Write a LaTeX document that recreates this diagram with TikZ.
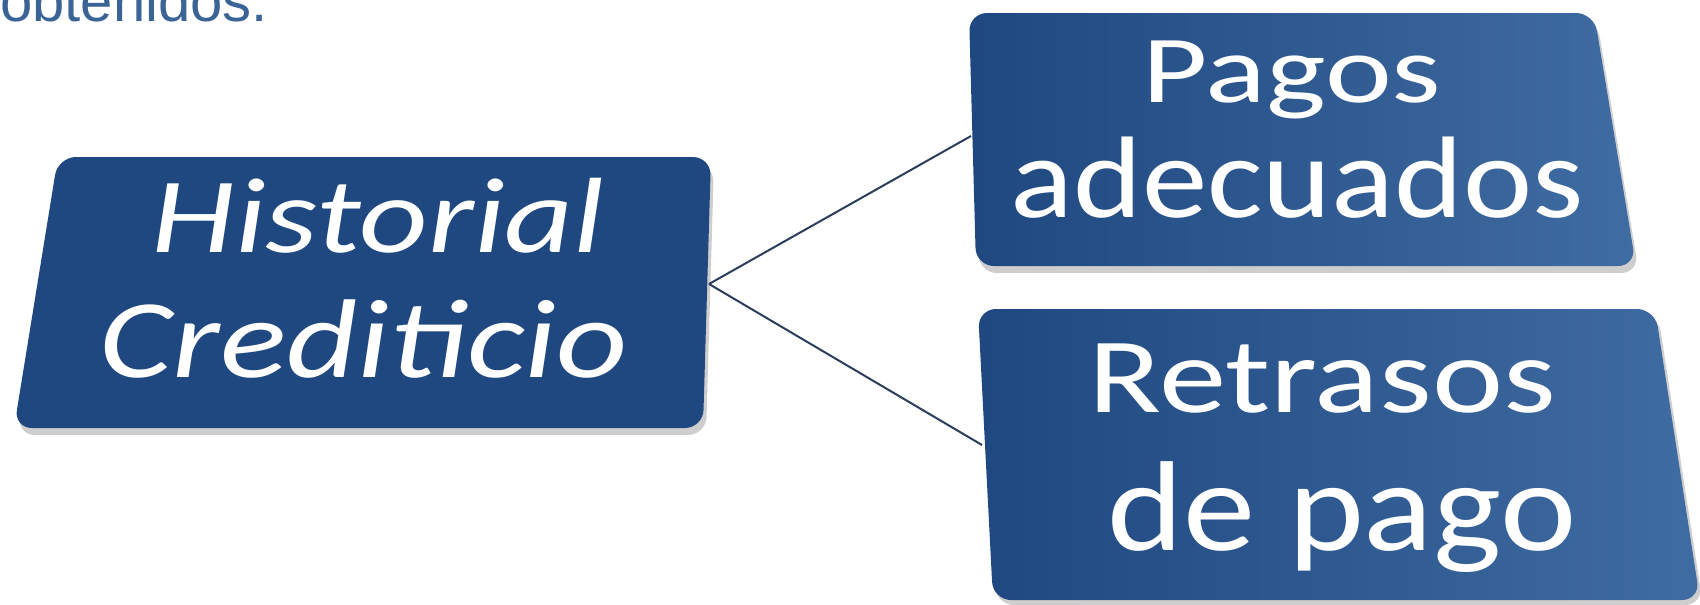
\documentclass[tikz,border=0pt]{standalone}
\usepackage{fontspec}
\usepackage{graphicx}
\newfontfamily\carlito{Carlito}
\newfontfamily\arialx{Liberation Sans}
\definecolor{boxdark}{HTML}{1F4880}
\definecolor{boxmid}{HTML}{2A5690}
\definecolor{boxlight}{HTML}{3F6CA2}
\definecolor{linkcol}{HTML}{2A3E5C}
\definecolor{titlecol}{HTML}{3A6496}
\tikzset{
  boxshape/.style={rounded corners=18pt},
  boxshadow/.style={boxshape, fill=black!55, opacity=0.35},
  link/.style={draw=linkcol, line width=2pt},
  boxtext/.style={text=white, inner sep=0pt, anchor=base},
}
\begin{document}
\begin{tikzpicture}[x=1pt,y=-1pt]
\useasboundingbox (0,0) rectangle (1700,605);
% title fragment
\node[anchor=base east, inner sep=0pt, text=titlecol, font=\arialx\fontsize{58}{58}\selectfont] (title) at (268,21) {obtenidos.};

% ---- left box: Historial Crediticio
\coordinate (h-tl) at (58,157);
\coordinate (h-tr) at (711,157);
\coordinate (h-br) at (703,428);
\coordinate (h-bl) at (14,428);
\coordinate (h-e) at (709,284);
\fill[boxshadow] ([shift={(3,7)}]h-tl) -- ([shift={(3,7)}]h-tr) -- ([shift={(3,7)}]h-br) -- ([shift={(3,7)}]h-bl) -- cycle;
\fill[boxshape, boxdark] (h-tl) -- (h-tr) -- (h-br) -- (h-bl) -- cycle;
\node[boxtext, font=\carlito\itshape\fontsize{107}{107}\selectfont] (hist1) at (378,252) {\scalebox{1.25}[1]{Historial}};
\node[boxtext, font=\carlito\itshape\fontsize{112}{112}\selectfont] (hist2) at (364,377) {\scalebox{1.24}[1]{Crediticio}};

% ---- top right box: Pagos adecuados
\coordinate (p-tl) at (969,13);
\coordinate (p-tr) at (1594,13);
\coordinate (p-br) at (1636,266);
\coordinate (p-bl) at (976,266);
\coordinate (p-w) at (971,136);
\fill[boxshadow] ([shift={(3,7)}]p-tl) -- ([shift={(3,7)}]p-tr) -- ([shift={(3,7)}]p-br) -- ([shift={(3,7)}]p-bl) -- cycle;
\shade[boxshape, left color=boxdark, right color=boxlight] (p-tl) -- (p-tr) -- (p-br) -- (p-bl) -- cycle;
\node[boxtext, font=\carlito\fontsize{96}{96}\selectfont] (pag1) at (1292,102) {\scalebox{1.32}[1]{Pagos}};
\node[boxtext, font=\carlito\fontsize{116}{116}\selectfont] (pag2) at (1297,217) {\scalebox{1.13}[1]{adecuados}};

% ---- bottom right box: Retrasos de pago
\coordinate (r-tl) at (978,309);
\coordinate (r-tr) at (1655,309);
\coordinate (r-br) at (1700,600);
\coordinate (r-bl) at (993,600);
\coordinate (r-w) at (982,445);
\fill[boxshadow] ([shift={(3,5)}]r-tl) -- ([shift={(3,5)}]r-tr) -- ([shift={(3,5)}]r-br) -- ([shift={(3,5)}]r-bl) -- cycle;
\shade[boxshape, left color=boxdark, right color=boxlight] (r-tl) -- (r-tr) -- (r-br) -- (r-bl) -- cycle;
\node[boxtext, font=\carlito\fontsize{107}{107}\selectfont] (ret1) at (1322,412) {\scalebox{1.26}[1]{Retrasos}};
\node[boxtext, font=\carlito\fontsize{128}{128}\selectfont] (ret2) at (1342,550) {\scalebox{1.13}[1]{de pago}};

% connectors
\draw[link] (h-e) -- (p-w);
\draw[link] (h-e) -- (r-w);
\end{tikzpicture}
\end{document}
